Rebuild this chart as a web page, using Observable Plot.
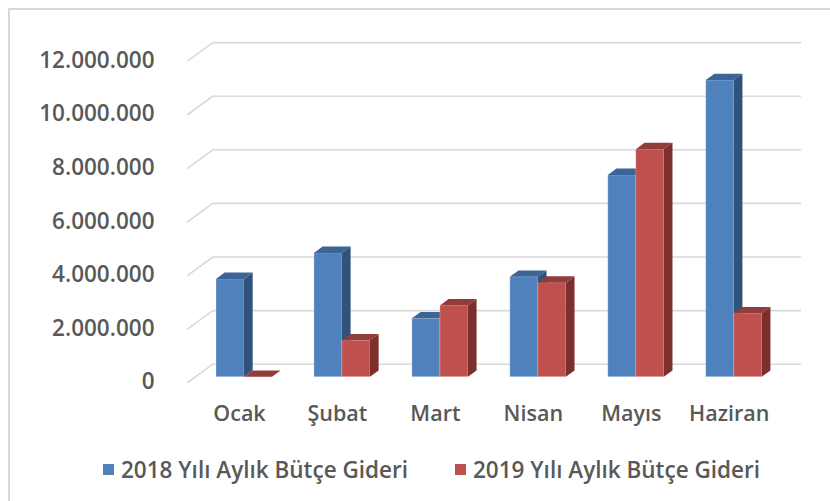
<!DOCTYPE html>
<html>
<head>
<meta charset="utf-8">
<script src="https://cdn.jsdelivr.net/npm/d3@7"></script>
<script src="https://cdn.jsdelivr.net/npm/@observablehq/plot@0.6"></script>
<style>
  html, body { margin: 0; padding: 0; background: #fff; overflow: hidden; }
  #wrap { position: relative; width: 830px; height: 501px; font-family: "Open Sans", sans-serif; }
  #frame { position: absolute; left: 8px; top: 8px; width: 900px; height: 600px; border-left: 2px solid #d9d9d9; border-top: 2px solid #d9d9d9; }
  #chart { position: absolute; left: 0; top: 0; }
  #legend { position: absolute; left: 0; top: 455px; width: 830px; height: 28px; }
  .item { position: absolute; top: 0; display: flex; align-items: center; height: 28px; font-size: 22.5px; font-weight: 600; color: #595959; white-space: nowrap; }
  .sw { width: 11px; height: 11px; margin-right: 7px; }
</style>
</head>
<body>
<div id="wrap">
  <div id="frame"></div>
  <div id="chart"></div>
  <div id="legend"></div>
</div>
<script>
// ---- data ----
const months = ["Ocak", "Şubat", "Mart", "Nisan", "Mayıs", "Haziran"];
const gider2018 = [3650000, 4620000, 2180000, 3730000, 7530000, 11070000];
const gider2019 = [0, 1360000, 2660000, 3510000, 8490000, 2370000];
const yTicks = [0, 2000000, 4000000, 6000000, 8000000, 10000000, 12000000];
const seriesNames = ["2018 Yılı Aylık Bütçe Gideri", "2019 Yılı Aylık Bütçe Gideri"];

// ---- styling / geometry ----
const W = 830, H = 445;
const mLeft = 195, mRight = 47.3, mTop = 55.1, mBottom = 68.3;
const xSpan = (W - mLeft - mRight) / 6;            // px per category
const ySpan = (H - mTop - mBottom) / 12000000;     // px per unit value
const px2x = p => p / xSpan;
const px2y = p => p / ySpan;
const barW = px2x(28);
const depthX = px2x(8.7), depthY = px2y(6.3);
const colors = [
  {front: "#4f81bd", top: "#3c6597", side: "#30527c"},
  {front: "#c0504d", top: "#913d3b", side: "#7c302e"}
];

const fmtLocale = d3.formatLocale({decimal: ",", thousands: ".", grouping: [3], currency: ["", ""]});
const fmt = fmtLocale.format(",d");

// build bar geometry from values
function bars(values, s) {
  return values.map((v, i) => ({
    k: s + "-" + i, v,
    a: s === 0 ? i - barW : i,
    b: s === 0 ? i : i + barW
  }));
}
const series = [bars(gider2018, 0), bars(gider2019, 1)];

function topFaces(bs) {
  return bs.flatMap(d => [
    {k: d.k, y: d.v, x1: d.a, x2: d.b},
    {k: d.k, y: d.v + depthY, x1: d.a + depthX, x2: d.b + depthX}
  ]);
}
function sideFaces(bs) {
  return bs.flatMap(d => [
    {k: d.k, x: d.b, y1: 0, y2: d.v},
    {k: d.k, x: d.b + depthX, y1: depthY, y2: d.v + depthY}
  ]);
}

// gridlines: floor-front-left -> back-left -> back-right
const x0px = mLeft + xSpan * 0.5;
const gxFront = px2x(187.3 - x0px), gxBack = px2x(212.3 - x0px), gxRight = px2x(800 - x0px);
const grid = yTicks.flatMap(t => [
  {t, x: gxFront, y: t - px2y(5.3)},
  {t, x: gxBack, y: t + px2y(13)},
  {t, x: gxRight, y: t + px2y(13)}
]);

const marks = [
  Plot.line(grid, {x: "x", y: "y", z: "t", stroke: "#d9d9d9", strokeWidth: 1.6})
];
series.forEach((bs, s) => {
  const c = colors[s];
  marks.push(
    Plot.rect(bs, {x1: "a", x2: "b", y1: 0, y2: "v", fill: c.front, stroke: "#ffffff", strokeOpacity: 0.25, strokeWidth: 1}),
    Plot.areaX(topFaces(bs), {y: "y", x1: "x1", x2: "x2", z: "k", fill: c.top}),
    Plot.areaY(sideFaces(bs), {x: "x", y1: "y1", y2: "y2", z: "k", fill: c.side})
  );
});
marks.push(
  Plot.axisY(yTicks, {tickSize: 0, tickPadding: 41, dy: 5, tickFormat: fmt, fontSize: 22.5, fontWeight: 600}),
  Plot.axisX(d3.range(months.length), {tickSize: 0, tickPadding: 29, dx: -5, tickFormat: i => months[i], fontSize: 21.5, fontWeight: 600})
);

const chart = Plot.plot({
  width: W, height: H,
  marginLeft: mLeft, marginRight: mRight, marginTop: mTop, marginBottom: mBottom,
  x: {type: "linear", domain: [-0.5, 5.5], axis: null},
  y: {type: "linear", domain: [0, 12000000], axis: null},
  style: {background: "transparent", color: "#595959", fontFamily: "'Open Sans', sans-serif"},
  marks
});
document.getElementById("chart").appendChild(chart);

// legend
const legend = document.getElementById("legend");
const legendX = [103, 455];
seriesNames.forEach((name, s) => {
  const it = document.createElement("div");
  it.className = "item";
  it.style.left = legendX[s] + "px";
  const sw = document.createElement("span");
  sw.className = "sw";
  sw.style.background = colors[s].front;
  const tx = document.createElement("span");
  tx.textContent = name;
  it.appendChild(sw); it.appendChild(tx);
  legend.appendChild(it);
});
</script>
</body>
</html>
